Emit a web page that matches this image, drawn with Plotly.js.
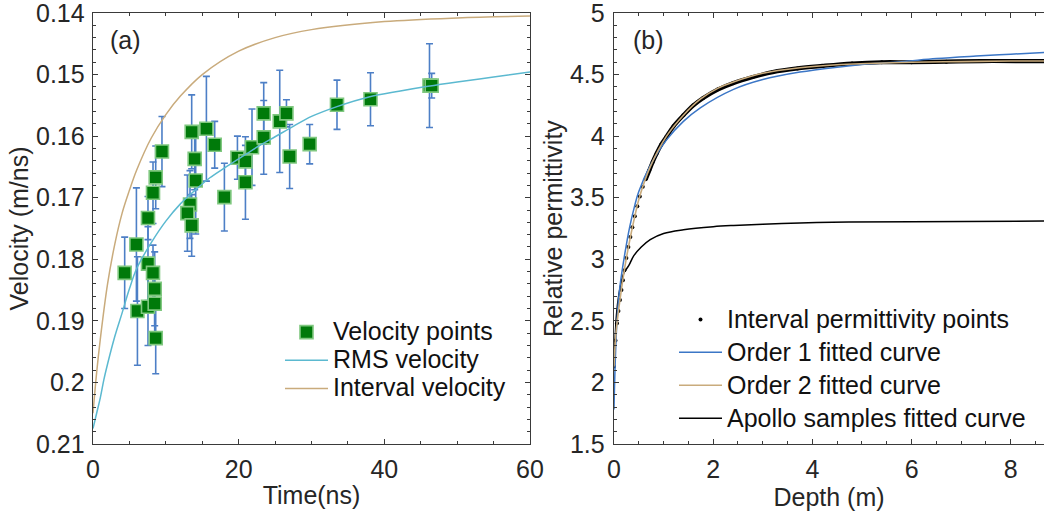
<!DOCTYPE html>
<html>
<head>
<meta charset="utf-8">
<script src="https://cdn.plot.ly/plotly-3.0.1.min.js"></script>
<style>html,body{margin:0;padding:0;background:#fff}#chart{width:1044px;height:511px}</style>
</head>
<body>
<div id="chart"></div>
<script>
// ---------- Panel (a): velocity vs time ----------
var ptTime = [4.35, 5.96, 6.10, 7.55, 7.55, 7.55, 8.24, 8.61, 8.24, 8.47, 8.47, 8.61, 9.47,
  13.55, 13.96, 14.10, 13.32, 12.96, 13.55, 15.57, 16.71, 18.04, 19.83, 20.93, 20.93,
  21.83, 23.44, 23.44, 25.64, 26.56, 27.00, 29.75, 33.50, 38.10, 46.20, 46.50];
var ptVel = [0.1822, 0.1776, 0.1884, 0.1733, 0.1807, 0.1877, 0.1692, 0.1667, 0.1822, 0.1848, 0.1872, 0.1928, 0.1625,
  0.1593, 0.1637, 0.1672, 0.1711, 0.1725, 0.1745, 0.1588, 0.1614, 0.1699, 0.1635, 0.1641, 0.1675,
  0.1618, 0.1602, 0.1563, 0.1576, 0.1563, 0.1633, 0.1613, 0.1549, 0.1540, 0.1518, 0.1518];
var ptErr = [0.0058, 0.0092, 0.0088, 0.0035, 0.0060, 0.0063, 0.0050, 0.0051, 0.0045, 0.0060, 0.0055, 0.0058, 0.0057,
  0.0060, 0.0050, 0.0087, 0.0055, 0.0062, 0.0050, 0.0085, 0.0038, 0.0055, 0.0035, 0.0040, 0.0060,
  0.0062, 0.0060, 0.0050, 0.0083, 0.0022, 0.0052, 0.0032, 0.0040, 0.0043, 0.0068, 0.0020];

var rmsTime = [0, 0.5, 1, 1.5, 2, 3, 4, 5, 6, 8, 10, 12, 14, 16, 18, 20, 22.5, 25, 27.5, 30, 33.5, 38, 42, 46, 50, 55, 60];
var rmsVel  = [0.2075, 0.2050, 0.2025, 0.1995, 0.1970, 0.1925, 0.1887, 0.1848, 0.1815, 0.1773, 0.1738, 0.1710, 0.1688,
  0.1668, 0.1652, 0.1637, 0.1618, 0.1601, 0.1584, 0.1568, 0.1552, 0.1536, 0.1527, 0.1519, 0.1512, 0.1504, 0.1496];

var intTime = [0, 0.5, 1, 2, 3, 4, 5, 6, 8, 10, 12, 15, 20, 25, 30, 40, 50, 60];
var intVel  = [0.2050, 0.1984, 0.1930, 0.1840, 0.1775, 0.1725, 0.1688, 0.1655, 0.1603, 0.1565, 0.1535, 0.1500,
  0.1462, 0.1440, 0.1427, 0.1414, 0.1408, 0.1405];

// ---------- Panel (b): permittivity vs depth ----------
var ipDepth = [0, 0.03, 0.06, 0.09, 0.12, 0.15, 0.18, 0.21, 0.25, 0.29, 0.33, 0.37, 0.42, 0.47, 0.52, 0.58, 0.64,
  0.71, 0.78, 0.86, 0.95, 1.05, 1.2, 1.4, 1.6, 1.8, 2.1, 2.4, 2.8, 3.2, 3.7, 4.2, 4.8, 5.4, 6.0, 6.7, 7.4, 8.1, 8.7];
var ipPerm = [2.13, 2.34, 2.48, 2.58, 2.67, 2.75, 2.83, 2.91, 3.01, 3.10, 3.18, 3.26, 3.35, 3.43, 3.51, 3.59, 3.65,
  3.72, 3.79, 3.86, 3.93, 3.99, 4.08, 4.17, 4.25, 4.31, 4.38, 4.43, 4.48, 4.52, 4.55, 4.57, 4.59, 4.60, 4.60, 4.605, 4.61, 4.61, 4.61];

var o1Depth = [0, 0.02, 0.06, 0.12, 0.22, 0.32, 0.42, 0.5, 0.73, 1.06, 1.4, 1.74, 2.41, 3.0, 3.75, 4.5, 5.1, 5.8, 6.5, 7.3, 8.0, 8.7];
var o1Perm  = [1.78, 2.10, 2.50, 2.78, 3.05, 3.27, 3.44, 3.55, 3.76, 3.97, 4.12, 4.23, 4.38, 4.46, 4.52, 4.56, 4.585, 4.605, 4.63, 4.65, 4.665, 4.68];

var o2Depth = [0, 0.04, 0.12, 0.22, 0.32, 0.42, 0.51, 0.73, 1.06, 1.4, 1.74, 2.1, 2.41, 3.0, 3.75, 4.5, 5.1, 6.0, 7.0, 8.0, 8.7];
var o2Perm  = [2.13, 2.40, 2.67, 2.94, 3.16, 3.35, 3.50, 3.75, 4.00, 4.17, 4.30, 4.39, 4.44, 4.51, 4.555, 4.58, 4.59, 4.60, 4.605, 4.61, 4.61];

var apDepth = [0, 0.02, 0.05, 0.1, 0.15, 0.2, 0.3, 0.4, 0.55, 0.73, 1.0, 1.4, 2.0, 2.4, 3.0, 4.4, 6.0, 8.7];
var apPerm  = [2.12, 2.33, 2.55, 2.72, 2.82, 2.89, 2.95, 3.03, 3.10, 3.16, 3.21, 3.24, 3.265, 3.275, 3.285, 3.30, 3.305, 3.31];

var xTicksA = [0, 20, 40, 60];
var yTicksA = [0.14, 0.15, 0.16, 0.17, 0.18, 0.19, 0.2, 0.21];
var xTicksB = [0, 2, 4, 6, 8];
var yTicksB = [1.5, 2, 2.5, 3, 3.5, 4, 4.5, 5];

var FONT = 'Liberation Sans, Arial, sans-serif';
var TXT = '#262626';
var AX = '#3a3a3a';

// the dense points merge into a solid band beyond ~0.6 m
var bandStart = 16;
var bandDepth = ipDepth.slice(bandStart);
var bandPerm = ipPerm.slice(bandStart);

function lg(s) { return '<span style="font-size:25px">' + s + '</span>'; }

var traces = [
  {x: ptTime, y: ptVel, type: 'scatter', mode: 'markers', name: lg('Velocity points'),
   xaxis: 'x', yaxis: 'y', legend: 'legend',
   marker: {symbol: 'square', size: 13, color: '#007a0a', line: {color: '#80c880', width: 1.6}},
   error_y: {type: 'data', array: ptErr, visible: true, color: '#4d7fc6', thickness: 1.6, width: 3.5}},
  {x: rmsTime, y: rmsVel, type: 'scatter', mode: 'lines', name: lg('RMS velocity'),
   xaxis: 'x', yaxis: 'y', legend: 'legend', line: {color: '#5bb9d0', width: 1.5, shape: 'spline'}},
  {x: intTime, y: intVel, type: 'scatter', mode: 'lines', name: lg('Interval velocity'),
   xaxis: 'x', yaxis: 'y', legend: 'legend', line: {color: '#c9ab7c', width: 1.5, shape: 'spline'}},

  {x: bandDepth, y: bandPerm, type: 'scatter', mode: 'lines', showlegend: false, hoverinfo: 'skip',
   xaxis: 'x2', yaxis: 'y2', line: {color: '#000', width: 4.2, shape: 'spline'}},
  {x: ipDepth, y: ipPerm, type: 'scatter', mode: 'markers', name: lg('Interval permittivity points'),
   xaxis: 'x2', yaxis: 'y2', legend: 'legend2', legendrank: 1,
   marker: {color: '#000', size: 4}},
  {x: apDepth, y: apPerm, type: 'scatter', mode: 'lines', name: lg('Apollo samples fitted curve'),
   xaxis: 'x2', yaxis: 'y2', legend: 'legend2', legendrank: 4, line: {color: '#000', width: 1.5, shape: 'spline'}},
  {x: o1Depth, y: o1Perm, type: 'scatter', mode: 'lines', name: lg('Order 1 fitted curve'),
   xaxis: 'x2', yaxis: 'y2', legend: 'legend2', legendrank: 2, line: {color: '#3b76c6', width: 1.5, shape: 'spline'}},
  {x: o2Depth, y: o2Perm, type: 'scatter', mode: 'lines', name: lg('Order 2 fitted curve'),
   xaxis: 'x2', yaxis: 'y2', legend: 'legend2', legendrank: 3, line: {color: '#c9ab7c', width: 1.6, shape: 'spline'}}
];

function axisBase(extra) {
  var a = {
    showgrid: false, zeroline: false, showline: true, linecolor: AX, linewidth: 1.3,
    ticks: 'inside', ticklen: 5, tickwidth: 1.2, tickcolor: AX,
    tickfont: {family: FONT, size: 25, color: TXT}, ticklabeloverflow: 'allow'
  };
  for (var k in extra) a[k] = extra[k];
  return a;
}
function minorTicks(d) { return {ticks: 'inside', ticklen: 3, tickwidth: 1, tickcolor: AX, dtick: d, showgrid: false}; }
function ttl(s, so) { return {text: s, font: {family: FONT, size: 25, color: TXT}, standoff: so}; }

var layout = {
  width: 1044, height: 511,
  margin: {l: 0, r: 0, t: 0, b: 0},
  paper_bgcolor: '#fff', plot_bgcolor: '#fff',
  font: {family: FONT, color: TXT},
  xaxis: axisBase({domain: [93/1044, 530/1044], range: [0, 60], tickvals: xTicksA, mirror: 'ticks',
    minor: minorTicks(5), title: ttl('Time(ns)', 4), anchor: 'y', ticklabelstandoff: 3}),
  yaxis: axisBase({domain: [1 - 444/511, 1 - 13/511], range: [0.21, 0.14], tickvals: yTicksA, mirror: 'ticks',
    minor: minorTicks(0.002), title: ttl('Velocity (m/ns)', 0), anchor: 'x', ticklabelstandoff: 2}),
  xaxis2: axisBase({domain: [614/1044, 1], range: [0, 8.67], tickvals: xTicksB, mirror: 'ticks',
    minor: minorTicks(0.5), title: ttl('Depth (m)', 4), anchor: 'y2', ticklabelstandoff: 3}),
  yaxis2: axisBase({domain: [1 - 444/511, 1 - 13/511], range: [1.5, 5], tickvals: yTicksB,
    minor: minorTicks(0.1), title: ttl('Relative permittivity', 0), anchor: 'x2', ticklabelstandoff: 3}),
  legend: {x: 280/1044, y: 1 - 313/511, xanchor: 'left', yanchor: 'top', bgcolor: 'rgba(0,0,0,0)',
    font: {family: FONT, size: 19.4, color: '#111'}, tracegroupgap: 0, itemwidth: 43, traceorder: 'normal'},
  legend2: {x: 674/1044, y: 1 - 298/511, xanchor: 'left', yanchor: 'top', bgcolor: 'rgba(0,0,0,0)',
    font: {family: FONT, size: 23, color: '#111'}, tracegroupgap: 0, itemwidth: 43, traceorder: 'normal'},
  annotations: [
    {text: '(a)', x: 125/1044, y: 1 - 40/511, xref: 'paper', yref: 'paper', xanchor: 'center', yanchor: 'middle',
     showarrow: false, font: {family: FONT, size: 25, color: TXT}},
    {text: '(b)', x: 648/1044, y: 1 - 40/511, xref: 'paper', yref: 'paper', xanchor: 'center', yanchor: 'middle',
     showarrow: false, font: {family: FONT, size: 25, color: TXT}}
  ],
  showlegend: true
};

Plotly.newPlot('chart', traces, layout, {displayModeBar: false, staticPlot: true});
</script>
</body>
</html>
